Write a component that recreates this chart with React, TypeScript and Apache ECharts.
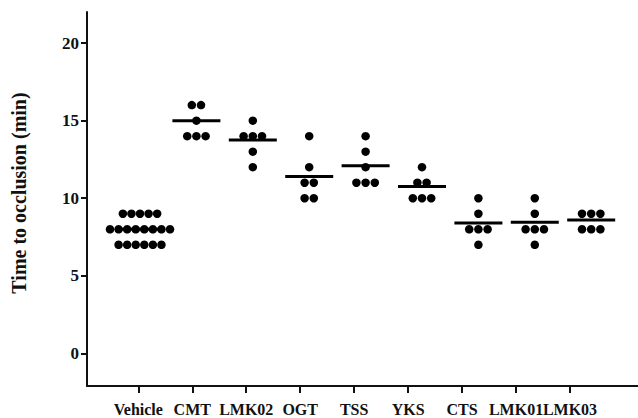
import React, { useEffect, useRef } from "react";
import * as echarts from "echarts";

const categories = ["Vehicle", "CMT", "LMK02", "OGT", "TSS", "YKS", "CTS", "LMK01", "LMK03"];

const vehicle = [9, 9, 9, 9, 9, 8, 8, 8, 8, 8, 8, 8, 8, 7, 7, 7, 7, 7, 7];
const cmt = [16, 16, 15, 14, 14, 14];
const lmk02 = [15, 14, 14, 14, 13, 12];
const ogt = [14, 12, 11, 11, 10, 10];
const tss = [14, 13, 12, 11, 11, 11];
const yks = [12, 11, 11, 10, 10, 10];
const cts = [10, 9, 8, 8, 8, 7];
const lmk01 = [10, 9, 8, 8, 8, 7];
const lmk03 = [9, 9, 9, 8, 8, 8];

const groups = [vehicle, cmt, lmk02, ogt, tss, yks, cts, lmk01, lmk03];

// horizontal bars (group means)
const meanLines = [8, 15, 13.75, 11.4, 12.1, 10.75, 8.4, 8.45, 8.6];

const yTickValues = [0, 5, 10, 15, 20];
const xTickValues = [0, 1, 2, 3, 4, 5, 6, 7, 8];

const FONT = "'Liberation Serif', 'Times New Roman', serif";

function buildDots(): number[][] {
  const pts: number[][] = [];
  groups.forEach((vals, gi) => {
    const step = gi === 0 ? 0.152 : 0.163;
    const counts = new Map<number, number>();
    vals.forEach((v) => counts.set(v, (counts.get(v) || 0) + 1));
    counts.forEach((n, v) => {
      for (let k = 0; k < n; k++) {
        pts.push([gi + (k - (n - 1) / 2) * step, v]);
      }
    });
  });
  return pts;
}

const X_MIN = -0.951;
const X_MAX = 9.26;

const labelStyle = {
  show: true,
  hideOverlap: false,
  showMinLabel: true,
  showMaxLabel: true,
  margin: 15,
  fontFamily: FONT,
  fontWeight: "bold",
  fontSize: 16,
  color: "#111",
  formatter: (v: number) => categories[Math.round(v)] ?? "",
};

export default function App() {
  const ref = useRef<HTMLDivElement>(null);
  useEffect(() => {
    if (!ref.current) return;
    const chart = echarts.init(ref.current, null, { renderer: "svg" });
    chart.setOption({
      animation: false,
      backgroundColor: "#ffffff",
      grid: { left: 87, right: 0, top: 12, bottom: 32 },
      xAxis: [
        {
          type: "value",
          min: X_MIN,
          max: X_MAX,
          position: "bottom",
          axisLine: { show: true, onZero: false, lineStyle: { color: "#111", width: 2 } },
          axisTick: { show: true, customValues: xTickValues, length: 7, lineStyle: { color: "#111", width: 2 } },
          axisLabel: { ...labelStyle, customValues: xTickValues.slice(0, xTickValues.length - 1) },
          splitLine: { show: false },
        },
        {
          type: "value",
          min: -0.94,
          max: 8.83,
          show: false,
          splitLine: { show: false },
        },
        {
          type: "value",
          min: X_MIN,
          max: X_MAX,
          position: "bottom",
          offset: 0,
          axisLine: { show: false, onZero: false },
          axisTick: { show: false },
          axisLabel: { ...labelStyle, customValues: xTickValues.slice(xTickValues.length - 1) },
          splitLine: { show: false },
        },
      ],
      yAxis: {
        type: "value",
        min: -2.1,
        max: 22,
        name: "Time to occlusion (min)",
        nameLocation: "middle",
        nameRotate: 90,
        nameGap: 58,
        nameTextStyle: { fontFamily: FONT, fontWeight: "bold", fontSize: 20, color: "#111", padding: [0, 0, 0, 12] },
        axisLine: { show: true, onZero: false, lineStyle: { color: "#111", width: 2 } },
        axisTick: { show: true, customValues: yTickValues, length: 6, lineStyle: { color: "#111", width: 2 } },
        axisLabel: {
          show: true,
          customValues: yTickValues,
          margin: 8,
          fontFamily: FONT,
          fontWeight: "bold",
          fontSize: 17,
          color: "#111",
        },
        splitLine: { show: false },
      },
      series: [
        {
          type: "scatter",
          xAxisIndex: 1,
          symbol: "rect",
          symbolSize: [48, 3],
          itemStyle: { color: "#000", opacity: 1 },
          data: meanLines.map((m, i) => [i, m]),
          z: 2,
        },
        {
          type: "scatter",
          xAxisIndex: 1,
          symbol: "circle",
          symbolSize: 8.5,
          itemStyle: { color: "#000", opacity: 1 },
          data: buildDots(),
          z: 3,
        },
      ],
    });
    return () => chart.dispose();
  }, []);
  return (
    <div
      ref={ref}
      style={{ position: "fixed", left: 0, top: 0, width: 638, height: 418, background: "#fff" }}
    />
  );
}
